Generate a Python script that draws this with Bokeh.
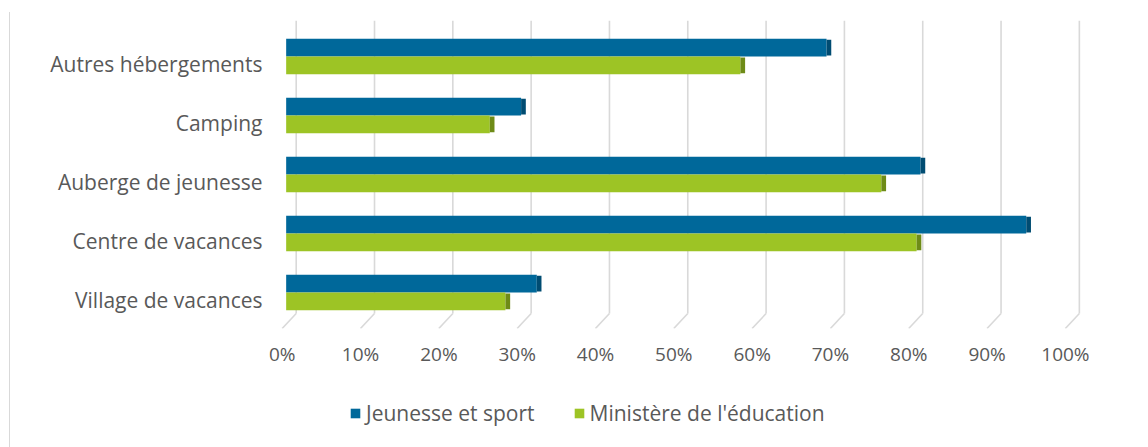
from bokeh.plotting import figure
from bokeh.layouts import column
from bokeh.models import Range1d, FixedTicker, Legend, LegendItem, LinearAxis, ColumnDataSource
from bokeh.embed import file_html
from bokeh.resources import INLINE

# ---- data (bottom to top) ----
categories = ["Village de vacances", "Centre de vacances", "Auberge de jeunesse",
              "Camping", "Autres hébergements"]
jeunesse = [32, 94.5, 81, 30, 69]
education = [28, 80.5, 76, 26, 58]
series_names = ["Jeunesse et sport", "Ministère de l'éducation"]
x_ticks = [0, 10, 20, 30, 40, 50, 60, 70, 80, 90, 100]
x_tick_labels = ["0%", "10%", "20%", "30%", "40%", "50%", "60%", "70%", "80%", "90%", "100%"]

# ---- style ----
FONT = "Open Sans"
TXT = "#595959"
BLUE, BLUE_SIDE = "#00689A", "#004C72"
GREEN, GREEN_SIDE = "#9DC425", "#6E8B17"
GRID = "#D9D9D9"
BAR_H = 0.30
OFF_J, OFF_G = 0.27, -0.03
SIDE = 0.6
DEPTH = 1.28
TOP, FLOOR_BACK, FLOOR_FRONT, FRONT = 4.73, -0.237, -0.49, -0.51

ypos = [float(i) for i in range(len(categories))]
src = ColumnDataSource(dict(
    yj=[y + OFF_J for y in ypos], yg=[y + OFF_G for y in ypos],
    j=jeunesse, g=education,
    js=[v + SIDE for v in jeunesse], gs=[v + SIDE for v in education],
))

p = figure(width=1148, height=390, output_backend="svg", toolbar_location=None,
           x_range=Range1d(-2, 105), y_range=Range1d(FLOOR_FRONT, TOP),
           x_axis_location=None,
           min_border_left=270, min_border_right=40, min_border_top=20,
           min_border_bottom=62)
p.outline_line_color = None
p.border_fill_color = None
p.background_fill_color = None
p.grid.visible = False

# 3D-ish gridlines derived from ticks
t = [float(v) for v in x_ticks]
gsrc = ColumnDataSource(dict(
    xb=[v + DEPTH for v in t], xf=[v + FRONT for v in t],
    top=[TOP] * len(t), fb=[FLOOR_BACK] * len(t), ff=[FLOOR_FRONT] * len(t),
))
p.segment(x0="xb", y0="top", x1="xb", y1="fb", source=gsrc, line_color=GRID, line_width=1.6)
p.segment(x0="xb", y0="fb", x1="xf", y1="ff", source=gsrc, line_color=GRID, line_width=1.6)

# bars + dark end faces
rj = p.hbar(y="yj", left=0, right="j", height=BAR_H, source=src, fill_color=BLUE, line_color=None)
p.hbar(y="yj", left="j", right="js", height=BAR_H * 0.9, source=src, fill_color=BLUE_SIDE, line_color=None)
rg = p.hbar(y="yg", left=0, right="g", height=BAR_H, source=src, fill_color=GREEN, line_color=None)
p.hbar(y="yg", left="g", right="gs", height=BAR_H * 0.9, source=src, fill_color=GREEN_SIDE, line_color=None)

# y axis with category labels
ya = p.yaxis[0]
ya.ticker = FixedTicker(ticks=ypos)
ya.major_label_overrides = {i: c for i, c in zip(range(len(categories)), categories)}
ya.axis_line_color = None
ya.major_tick_line_color = None
ya.minor_tick_line_color = None
ya.major_tick_out = 0
ya.major_label_standoff = 8
ya.major_label_text_font = FONT
ya.major_label_text_font_size = "21px"
ya.major_label_text_color = TXT

# x axis on the front plane
p.extra_x_ranges = {"front": Range1d(-1.5, 105.5)}
xa = LinearAxis(x_range_name="front", ticker=FixedTicker(ticks=x_ticks),
                major_label_overrides={v: s for v, s in zip(x_ticks, x_tick_labels)})
xa.axis_line_color = None
xa.major_tick_line_color = None
xa.minor_tick_line_color = None
xa.major_tick_out = 0
xa.major_label_standoff = 12
xa.major_label_text_font = FONT
xa.major_label_text_font_size = "19px"
xa.major_label_text_color = TXT
p.add_layout(xa, "below")

# legend strip below the chart (frame aligned with the chart frame)
lg = figure(width=1148, height=57, output_backend="svg", toolbar_location=None,
            x_range=Range1d(0, 1), y_range=Range1d(0, 1),
            x_axis_location=None, y_axis_location=None,
            min_border_left=270, min_border_right=40, min_border_top=0, min_border_bottom=0)
lg.outline_line_color = None
lg.border_fill_color = None
lg.background_fill_color = None
lg.grid.visible = False
# swatch renderers for the legend (kept outside the visible range)
lsrc = ColumnDataSource(dict(y=[-5.0], l=[0.0], r=[0.0]))
lj = lg.hbar(y="y", left="l", right="r", height=1, source=lsrc, fill_color=BLUE, line_color=None)
lgr = lg.hbar(y="y", left="l", right="r", height=1, source=lsrc, fill_color=GREEN, line_color=None)
legend = Legend(items=[LegendItem(label=series_names[0], renderers=[lj]),
                       LegendItem(label=series_names[1], renderers=[lgr])],
                orientation="horizontal", location=(79, 20),
                label_text_font=FONT, label_text_font_size="21px", label_text_color=TXT,
                glyph_width=12, glyph_height=12, label_standoff=5, spacing=38,
                padding=0, margin=0, border_line_color=None, background_fill_alpha=0)
lg.add_layout(legend, "center")

page = column(p, lg, spacing=0)
page.styles = {
    "background-image": "linear-gradient(#D9D9D9, #D9D9D9)",
    "background-size": "1px 440px",
    "background-position": "9px 12px",
    "background-repeat": "no-repeat",
}

open("out.html", "w").write(file_html(page, INLINE))
